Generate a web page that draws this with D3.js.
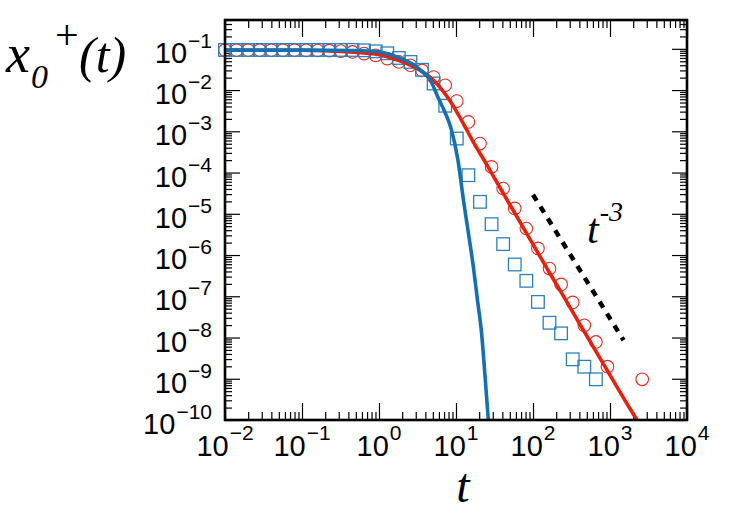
<!DOCTYPE html>
<html>
<head>
<meta charset="utf-8">
<script src="https://cdn.jsdelivr.net/npm/d3@7"></script>
<style>
body { margin: 0; background: #fff; }
</style>
</head>
<body>
<div id="chart"></div>
<script>
// marker times (log grid)
const tGrid = [0.01, 0.01414, 0.02, 0.02828, 0.04, 0.05657, 0.08, 0.1131, 0.16, 0.2263,
    0.32, 0.4525, 0.64, 0.9051, 1.28, 1.810, 2.56, 3.620, 5.12, 7.241,
    10.24, 14.48, 20.48, 28.96, 40.96, 57.93, 81.92, 115.9, 163.8, 231.7,
    327.7, 463.4, 655.4, 926.8, 2621];

// red circles (uses all of tGrid)
const redCircles = [0.093, 0.093, 0.093, 0.093, 0.093, 0.093, 0.093, 0.092, 0.091, 0.090,
    0.088, 0.084, 0.0765, 0.0696, 0.058, 0.048, 0.040, 0.030, 0.0207, 0.0131,
    0.0054, 1.69e-3, 5.05e-4, 1.37e-4, 4.1e-5, 1.35e-5, 4.4e-6, 1.45e-6, 4.7e-7, 1.94e-7,
    7.1e-8, 1.97e-8, 7.8e-9, 1.96e-9, 9.7e-10];

// blue squares (first 33 of tGrid)
const blueSquares = [0.094, 0.094, 0.094, 0.094, 0.094, 0.094, 0.094, 0.094, 0.094, 0.094,
    0.094, 0.094, 0.092, 0.087, 0.078, 0.060, 0.048, 0.031, 0.0144, 4.17e-3,
    6.68e-4, 8.63e-5, 1.95e-5, 5.6e-6, 1.84e-6, 5.9e-7, 2.37e-7, 7.3e-8, 2.28e-8, 1.26e-8,
    2.96e-9, 1.96e-9, 9.7e-10];

// red solid curve
const redLineT = [0.01, 0.1, 0.42, 1, 1.78, 3.16, 5.01, 6.31, 7.94, 10, 12.6, 15.8, 25.1, 39.8,
    63.1, 100, 158, 251, 398, 631, 1000, 1585, 2239, 2818];
const redLineY = [0.092, 0.092, 0.0835, 0.0724, 0.0525, 0.0331, 0.0178, 0.0112, 6.3e-3, 3.16e-3,
    1.48e-3, 6.76e-4, 1.55e-4, 3.47e-5, 7.94e-6, 1.82e-6, 4.17e-7, 9.77e-8, 2.24e-8, 5.25e-9,
    1.23e-9, 2.88e-10, 1.0e-10, 4.8e-11];

// blue solid curve
const blueLineT = [0.01, 0.1, 0.5, 1, 1.875, 2.77, 3.72, 4.59, 5.83, 7.19, 8.61, 10.6, 12.5,
    14.5, 16.8, 19.0, 21.5, 23.8, 26.2, 27.7];
const blueLineY = [0.093, 0.093, 0.091, 0.0846, 0.0589, 0.0422, 0.0269, 0.0182, 6.68e-3, 2.9e-3,
    1.19e-3, 2.0e-4, 2.14e-5, 3.39e-6, 5.19e-7, 8.13e-8, 1.26e-8, 1.2e-9, 1.1e-10, 3.3e-11];

// t^-3 guide
const guideT = [100, 1500];
const guideY = [2.9e-5, 8.6e-9];

const xMajor = [1e-2, 1e-1, 1, 10, 100, 1e3, 1e4];
const yMajor = [1e-10, 1e-9, 1e-8, 1e-7, 1e-6, 1e-5, 1e-4, 1e-3, 1e-2, 1e-1];

const W = 750, H = 525;
const pLeft = 225, pRight = 687, pTop = 20, pBottom = 420;

const svg = d3.select("#chart").append("svg")
    .attr("width", W).attr("height", H)
    .style("font-family", "'Liberation Sans', Arial, sans-serif");

const x = d3.scaleLog().domain([1e-2, 1e4]).range([pLeft, pRight]);
const y = d3.scaleLog().domain([1e-10, 0.5]).range([pBottom, pTop]);

const isMajor = v => Math.abs(Math.log10(v) - Math.round(Math.log10(v))) < 1e-6;
const xMinor = x.ticks().filter(v => !isMajor(v));
const yMinor = y.ticks(50).filter(v => !isMajor(v));

// ticks (all pointing inward)
function ticks(axis, vals, size, tr) {
    const g = svg.append("g").attr("transform", tr)
        .call(axis.tickValues(vals).tickSize(-size).tickFormat(""));
    g.select(".domain").remove();
    g.selectAll("line").attr("stroke", "#000").attr("stroke-width", 1.2);
}
ticks(d3.axisBottom(x), xMajor, 17, `translate(0,${pBottom})`);
ticks(d3.axisBottom(x), xMinor, 8, `translate(0,${pBottom})`);
ticks(d3.axisTop(x), xMajor, 17, `translate(0,${pTop})`);
ticks(d3.axisTop(x), xMinor, 8, `translate(0,${pTop})`);
ticks(d3.axisLeft(y), yMajor, 15, `translate(${pLeft},0)`);
ticks(d3.axisLeft(y), yMinor, 7, `translate(${pLeft},0)`);
ticks(d3.axisRight(y), yMajor, 15, `translate(${pRight},0)`);
ticks(d3.axisRight(y), yMinor, 7, `translate(${pRight},0)`);

const expText = e => e < 0 ? "\u2212" + (-e) : String(e);

// x tick labels
svg.append("g").selectAll("text").data(xMajor).join("text")
    .attr("x", d => x(d)).attr("y", 456)
    .attr("text-anchor", "middle").attr("font-size", 29)
    .each(function (d) {
        const t = d3.select(this);
        t.append("tspan").text("10");
        t.append("tspan").attr("dx", 1).attr("dy", -16).attr("font-size", 21)
            .text(expText(Math.round(Math.log10(d))));
    });

// y tick labels
svg.append("g").selectAll("text").data(yMajor).join("text")
    .attr("x", 212).attr("y", d => y(d) + 14)
    .attr("text-anchor", "end").attr("font-size", 29)
    .each(function (d) {
        const t = d3.select(this);
        t.append("tspan").text("10");
        t.append("tspan").attr("dx", 1).attr("dy", -15).attr("font-size", 21)
            .text(expText(Math.round(Math.log10(d))));
    });

svg.append("clipPath").attr("id", "plot")
    .append("rect").attr("x", pLeft).attr("y", pTop)
    .attr("width", pRight - pLeft).attr("height", pBottom - pTop);

const plot = svg.append("g");

// markers
plot.selectAll(".circ").data(redCircles).join("circle")
    .attr("class", "circ")
    .attr("cx", (d, i) => x(tGrid[i])).attr("cy", d => y(d)).attr("r", 6.3)
    .attr("fill", "none").attr("stroke", "#e8281c").attr("stroke-width", 1.1);

plot.selectAll(".sq").data(blueSquares).join("rect")
    .attr("class", "sq")
    .attr("x", (d, i) => x(tGrid[i]) - 6.3).attr("y", d => y(d) - 6.3)
    .attr("width", 12.6).attr("height", 12.6)
    .attr("fill", "none").attr("stroke", "#2b80c0").attr("stroke-width", 1.3);

const line = d3.line().x(d => x(d[0])).y(d => y(d[1])).curve(d3.curveMonotoneX);

const lines = svg.append("g").attr("clip-path", "url(#plot)");
lines.append("path")
    .attr("d", line(redLineT.map((t, i) => [t, redLineY[i]])))
    .attr("fill", "none").attr("stroke", "#e8210f").attr("stroke-width", 3.6);
lines.append("path")
    .attr("d", line(blueLineT.map((t, i) => [t, blueLineY[i]])))
    .attr("fill", "none").attr("stroke", "#1570b0").attr("stroke-width", 3.6);
lines.append("path")
    .attr("d", d3.line().x(d => x(d[0])).y(d => y(d[1]))(guideT.map((t, i) => [t, guideY[i]])))
    .attr("fill", "none").attr("stroke", "#000").attr("stroke-width", 4.5)
    .attr("stroke-dasharray", "7,7");

// frame
svg.append("rect").attr("x", pLeft).attr("y", pTop)
    .attr("width", pRight - pLeft).attr("height", pBottom - pTop)
    .attr("fill", "none").attr("stroke", "#000").attr("stroke-width", 2.6);

// axis titles
const serif = "'Liberation Serif', 'Times New Roman', serif";
const yt = svg.append("g").style("font-family", serif).style("font-style", "italic");
yt.append("text").attr("x", 6).attr("y", 72).attr("font-size", 54).text("x");
yt.append("text").attr("x", 31).attr("y", 88).attr("font-size", 34).text("0");
yt.append("text").attr("x", 55).attr("y", 49).attr("font-size", 42).style("font-style", "normal").text("+");
yt.append("text").attr("x", 79).attr("y", 72).attr("font-size", 50).text("(t)");

svg.append("text").attr("x", 463).attr("y", 502).attr("text-anchor", "middle")
    .style("font-family", serif).style("font-style", "italic")
    .attr("font-size", 48).text("t");

const ann = svg.append("text").attr("x", 587).attr("y", 243)
    .style("font-family", serif).style("font-style", "italic");
ann.append("tspan").attr("font-size", 42).text("t");
ann.append("tspan").attr("dx", 1).attr("dy", -22).attr("font-size", 28).text("-3");
</script>
</body>
</html>
